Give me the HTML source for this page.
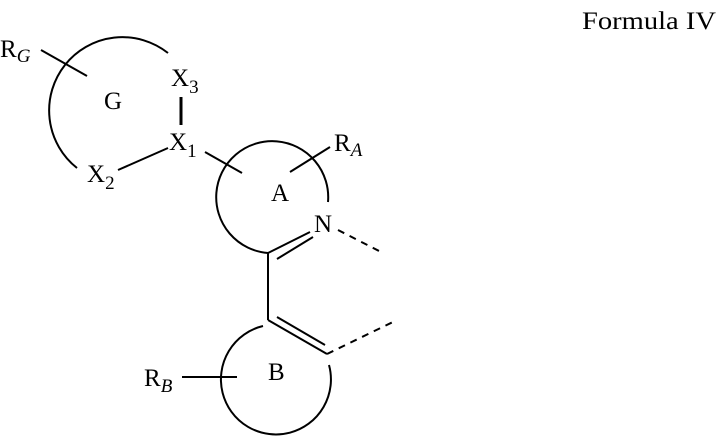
<!DOCTYPE html>
<html><head><meta charset="utf-8"><style>
html,body{margin:0;padding:0;background:#fff;width:718px;height:438px;overflow:hidden}
text{font-family:"Liberation Serif",serif;fill:#000}
</style></head><body>
<svg width="718" height="438" viewBox="0 0 718 438" xmlns="http://www.w3.org/2000/svg">
<g fill="none" stroke="#000" stroke-width="2">
<path d="M168,53 A73,73 0 1 0 77,168"/>
<line x1="41" y1="50" x2="87" y2="76"/>
<line x1="181" y1="97" x2="181" y2="125" stroke-width="3"/>
<line x1="118" y1="170" x2="168" y2="148"/>
<line x1="205" y1="152" x2="242" y2="173"/>
<path d="M268,253 A56,56 0 1 1 328,202"/>
<line x1="290" y1="172" x2="330" y2="147"/>
<line x1="268" y1="253" x2="310" y2="232"/>
<line x1="277" y1="259" x2="313" y2="237"/>
<line x1="338" y1="230" x2="383" y2="253" stroke-dasharray="7,6"/>
<line x1="268" y1="253" x2="268" y2="320"/>
<line x1="268" y1="320" x2="327" y2="354"/>
<line x1="277" y1="317" x2="325" y2="345"/>
<line x1="327" y1="354" x2="397" y2="320" stroke-dasharray="7,6"/>
<path d="M263,326 A55,55 0 1 0 329,365"/>
<line x1="182" y1="377" x2="237" y2="377"/>
</g>
<g font-size="25">
<text x="582" y="29" textLength="134" lengthAdjust="spacingAndGlyphs">Formula IV</text>
<text x="0" y="57">R<tspan font-size="19" font-style="italic" dy="5">G</tspan></text>
<text x="104" y="109">G</text>
<text x="171" y="86">X<tspan font-size="19" dy="7">3</tspan></text>
<text x="169" y="150">X<tspan font-size="19" dy="7">1</tspan></text>
<text x="87" y="182">X<tspan font-size="19" dy="7">2</tspan></text>
<text x="334" y="151">R<tspan font-size="19" font-style="italic" dy="5">A</tspan></text>
<text x="271" y="201">A</text>
<text x="314" y="232">N</text>
<text x="144" y="386">R<tspan font-size="19" font-style="italic" dy="6">B</tspan></text>
<text x="268" y="380">B</text>
</g>
</svg>
</body></html>
